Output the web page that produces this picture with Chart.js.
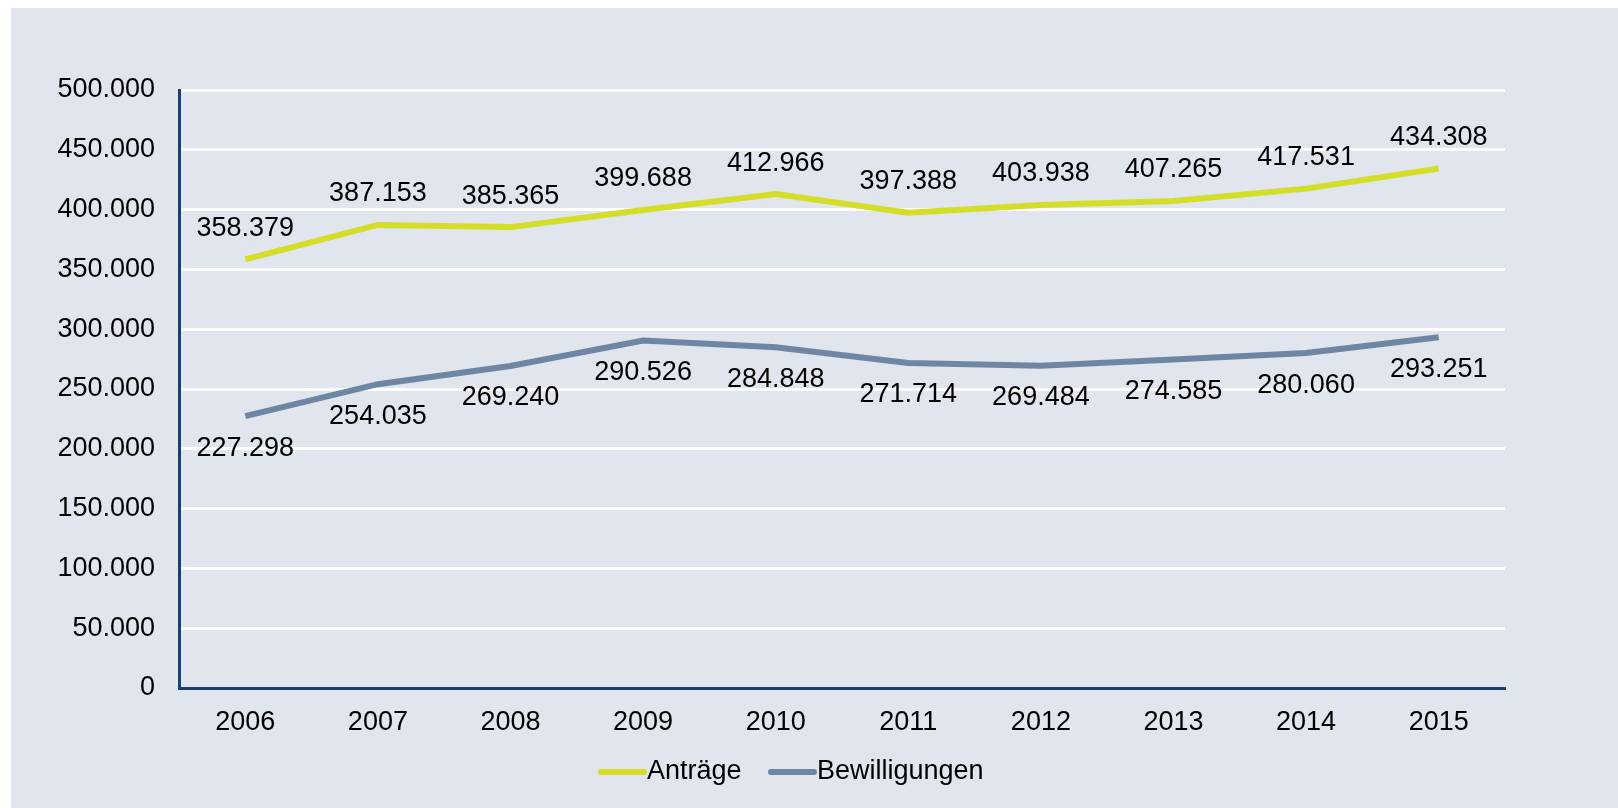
<!DOCTYPE html>
<html>
<head>
<meta charset="utf-8">
<script src="https://cdn.jsdelivr.net/npm/chart.js@4/dist/chart.umd.min.js"></script>
<style>
  html, body { margin: 0; padding: 0; background: #ffffff; }
  #wrap { position: absolute; left: 11px; top: 8px; width: 1607px; height: 800px; background: #e0e5ee; }
</style>
</head>
<body>
<div id="wrap"><canvas id="chart" width="1607" height="800"></canvas></div>
<script>
// Daten
const years = ['2006', '2007', '2008', '2009', '2010', '2011', '2012', '2013', '2014', '2015'];
const antraege = [358379, 387153, 385365, 399688, 412966, 397388, 403938, 407265, 417531, 434308];
const bewilligungen = [227298, 254035, 269240, 290526, 284848, 271714, 269484, 274585, 280060, 293251];
const yTicks = [0, 50000, 100000, 150000, 200000, 250000, 300000, 350000, 400000, 450000, 500000];

const fmt = (v) => v.toLocaleString('de-DE');
const font = 'Liberation Sans, Arial, sans-serif';
const fontSize = 27;

// Werte an die Punkte schreiben (oben fuer Antraege, unten fuer Bewilligungen)
const valueLabels = {
  id: 'valueLabels',
  afterDatasetsDraw(chart) {
    const ctx = chart.ctx;
    ctx.save();
    ctx.font = fontSize + 'px ' + font;
    ctx.fillStyle = '#000';
    ctx.textAlign = 'center';
    ctx.textBaseline = 'middle';
    chart.data.datasets.forEach((ds, i) => {
      const meta = chart.getDatasetMeta(i);
      meta.data.forEach((pt, j) => {
        const off = i === 0 ? -31 : 32;
        ctx.fillText(fmt(ds.data[j]), pt.x, pt.y + off);
      });
    });
    ctx.restore();
  }
};

// Legende unten, Linie direkt vor dem Text
const lineLegend = {
  id: 'lineLegend',
  afterDraw(chart) {
    const ctx = chart.ctx;
    const y = 764;
    const starts = [587, 757];
    ctx.save();
    ctx.font = fontSize + 'px ' + font;
    ctx.textBaseline = 'middle';
    ctx.textAlign = 'left';
    chart.data.datasets.forEach((ds, i) => {
      const x = starts[i];
      ctx.strokeStyle = ds.borderColor;
      ctx.lineWidth = 6;
      ctx.lineCap = 'round';
      ctx.beginPath();
      ctx.moveTo(x + 3, y);
      ctx.lineTo(x + 46, y);
      ctx.stroke();
      ctx.fillStyle = '#000';
      ctx.fillText(ds.label, x + 49, y);
    });
    ctx.restore();
  }
};

new Chart(document.getElementById('chart'), {
  type: 'line',
  data: {
    labels: years,
    datasets: [
      { label: 'Anträge', data: antraege, borderColor: '#d4de28', backgroundColor: '#d4de28', borderWidth: 6, pointRadius: 0, tension: 0 },
      { label: 'Bewilligungen', data: bewilligungen, borderColor: '#6c86a4', backgroundColor: '#6c86a4', borderWidth: 6, pointRadius: 0, tension: 0 }
    ]
  },
  options: {
    responsive: false,
    animation: false,
    layout: { padding: { top: 82, right: 113, left: 0, bottom: 60 } },
    plugins: {
      tooltip: { enabled: false },
      legend: { display: false }
    },
    scales: {
      x: {
        offset: true,
        grid: { display: false, drawTicks: false, offset: true },
        border: { color: '#1c3f6e', width: 3 },
        ticks: { color: '#000', font: { family: font, size: fontSize }, padding: 18, maxRotation: 0 },
        afterFit(scale) { scale.height = 60; }
      },
      y: {
        min: 0, max: 500000,
        grid: { color: '#ffffff', lineWidth: 3, drawTicks: false },
        border: { color: '#1c3f6e', width: 3 },
        afterBuildTicks(scale) { scale.ticks = yTicks.map(v => ({ value: v })); },
        ticks: { color: '#000', font: { family: font, size: fontSize }, padding: 24, callback: (v) => fmt(v) },
        afterFit(scale) { scale.width = 168; }
      }
    }
  },
  plugins: [valueLabels, lineLegend]
});
</script>
</body>
</html>
